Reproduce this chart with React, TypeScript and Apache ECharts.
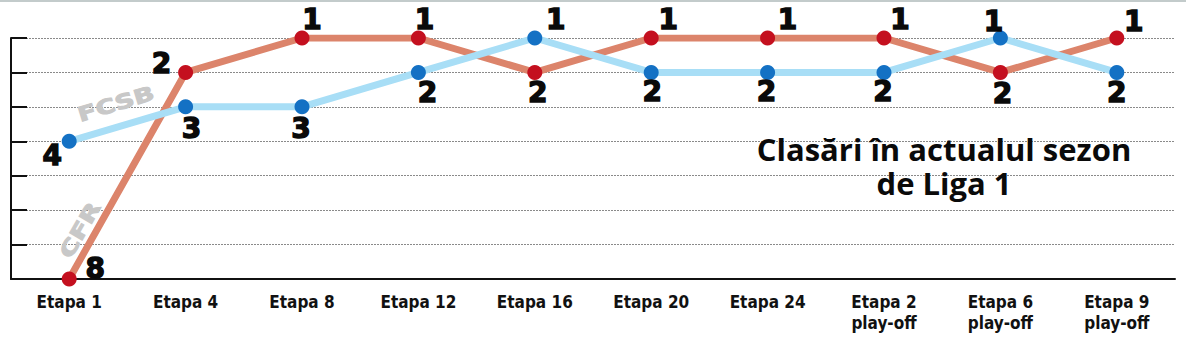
import React, { useEffect, useRef } from "react";
import * as echarts from "echarts";

const categories = [
  "Etapa 1",
  "Etapa 4",
  "Etapa 8",
  "Etapa 12",
  "Etapa 16",
  "Etapa 20",
  "Etapa 24",
  "Etapa 2\nplay-off",
  "Etapa 6\nplay-off",
  "Etapa 9\nplay-off",
];
const cfrRanks = [8, 2, 1, 1, 2, 1, 1, 1, 2, 1];
const fcsbRanks = [4, 3, 3, 2, 1, 2, 2, 2, 1, 2];
const rankTicks = [1, 2, 3, 4, 5, 6, 7, 8];
const titleLines = ["Clasări în actualul sezon", "de Liga 1"];

// label offsets (style only), relative to each point
const cfrLabelOffsets = [
  [26, -11], [-24, -9], [10, -19], [6, -19], [3, 20],
  [17, -19], [20, -19], [16, -19], [2, 21], [17, -17],
];
const fcsbLabelOffsets = [
  [-17, 14], [6, 22], [-1, 22], [9, 20], [21, -19],
  [1, 19], [-1, 19], [-1, 19], [-7, -17], [0, 20],
];

const labelFont = {
  fontFamily: "DejaVu Sans",
  fontWeight: 900 as any,
  fontSize: 28,
  color: "#0a0a0a",
  textBorderColor: "#0a0a0a",
  textBorderWidth: 1.4,
};

export default function App() {
  const ref = useRef<HTMLDivElement>(null);
  useEffect(() => {
    if (!ref.current) return;
    const chart = echarts.init(ref.current, null, { renderer: "svg" });
    const mk = (ranks: number[], offs: number[][]) =>
      ranks.map((v, i) => ({
        value: v,
        label: { offset: offs[i] },
      }));
    const titleStyle = {
      fontFamily: "Open Sans",
      fontWeight: "bold",
      fontSize: 31,
      fill: "#0a0a0a",
      align: "center",
      verticalAlign: "middle",
    };
    chart.setOption({
      animation: false,
      backgroundColor: "#ffffff",
      grid: { left: 11, right: 11, top: 38, bottom: 75, containLabel: false },
      xAxis: {
        type: "category",
        data: categories,
        boundaryGap: true,
        axisLine: { lineStyle: { color: "#111", width: 2 } },
        axisTick: {
          inside: true,
          length: 6,
          lineStyle: { color: "#111", width: 1.5 },
        },
        axisLabel: {
          interval: 0,
          margin: 12,
          fontFamily: "'DejaVu Sans Condensed', 'Roboto Condensed', Roboto, sans-serif",
          fontWeight: "bold",
          fontSize: 17,
          lineHeight: 21,
          color: "#111",
        },
        splitLine: { show: false },
      },
      yAxis: {
        type: "value",
        min: rankTicks[0],
        max: rankTicks[rankTicks.length - 1],
        interval: 1,
        inverse: true,
        axisLine: { show: true, lineStyle: { color: "#111", width: 2 } },
        axisTick: {
          show: true,
          inside: true,
          length: 16,
          lineStyle: { color: "#111", width: 2 },
        },
        axisLabel: { show: false },
        splitLine: {
          show: true,
          lineStyle: { color: "#8a8a8a", width: 1, type: [2, 1] },
        },
      },
      graphic: [
        {
          type: "rect",
          shape: { x: 0, y: 0, width: 1186, height: 2 },
          style: { fill: "#c3cbcb" },
          silent: true,
        },
        {
          type: "text",
          x: 944,
          y: 149,
          style: { text: titleLines[0], ...titleStyle },
          z: 10,
        },
        {
          type: "text",
          x: 944,
          y: 183,
          style: { text: titleLines[1], ...titleStyle },
          z: 10,
        },
        {
          type: "text",
          x: 116,
          y: 104,
          rotation: (17 * Math.PI) / 180,
          scaleX: 1.35,
          style: {
            text: "FCSB",
            fontFamily: "DejaVu Sans",
            fontWeight: "bold",
            fontSize: 20,
            fill: "#c8c8c8",
            stroke: "#c8c8c8",
            lineWidth: 1,
            align: "center",
            verticalAlign: "middle",
          },
          z: 1,
        },
        {
          type: "text",
          x: 80,
          y: 230,
          rotation: (60 * Math.PI) / 180,
          scaleX: 1.4,
          style: {
            text: "CFR",
            fontFamily: "DejaVu Sans",
            fontWeight: "bold",
            fontSize: 20,
            fill: "#c8c8c8",
            stroke: "#c8c8c8",
            lineWidth: 1,
            align: "center",
            verticalAlign: "middle",
          },
          z: 1,
        },
      ],
      series: [
        {
          name: "CFR",
          type: "line",
          data: mk(cfrRanks, cfrLabelOffsets),
          symbol: "circle",
          symbolSize: 15,
          showAllSymbol: true,
          lineStyle: { color: "#dc846b", width: 7 },
          itemStyle: { color: "#c4101f" },
          label: { show: true, position: "inside", ...labelFont },
          z: 3,
        },
        {
          name: "FCSB",
          type: "line",
          data: mk(fcsbRanks, fcsbLabelOffsets),
          symbol: "circle",
          symbolSize: 15,
          showAllSymbol: true,
          lineStyle: { color: "#a8def6", width: 7 },
          itemStyle: { color: "#1471c4" },
          label: { show: true, position: "inside", ...labelFont },
          z: 4,
        },
      ],
    });
    return () => chart.dispose();
  }, []);
  return (
    <div
      ref={ref}
      style={{ position: "absolute", left: 0, top: 0, width: 1186, height: 354 }}
    />
  );
}
